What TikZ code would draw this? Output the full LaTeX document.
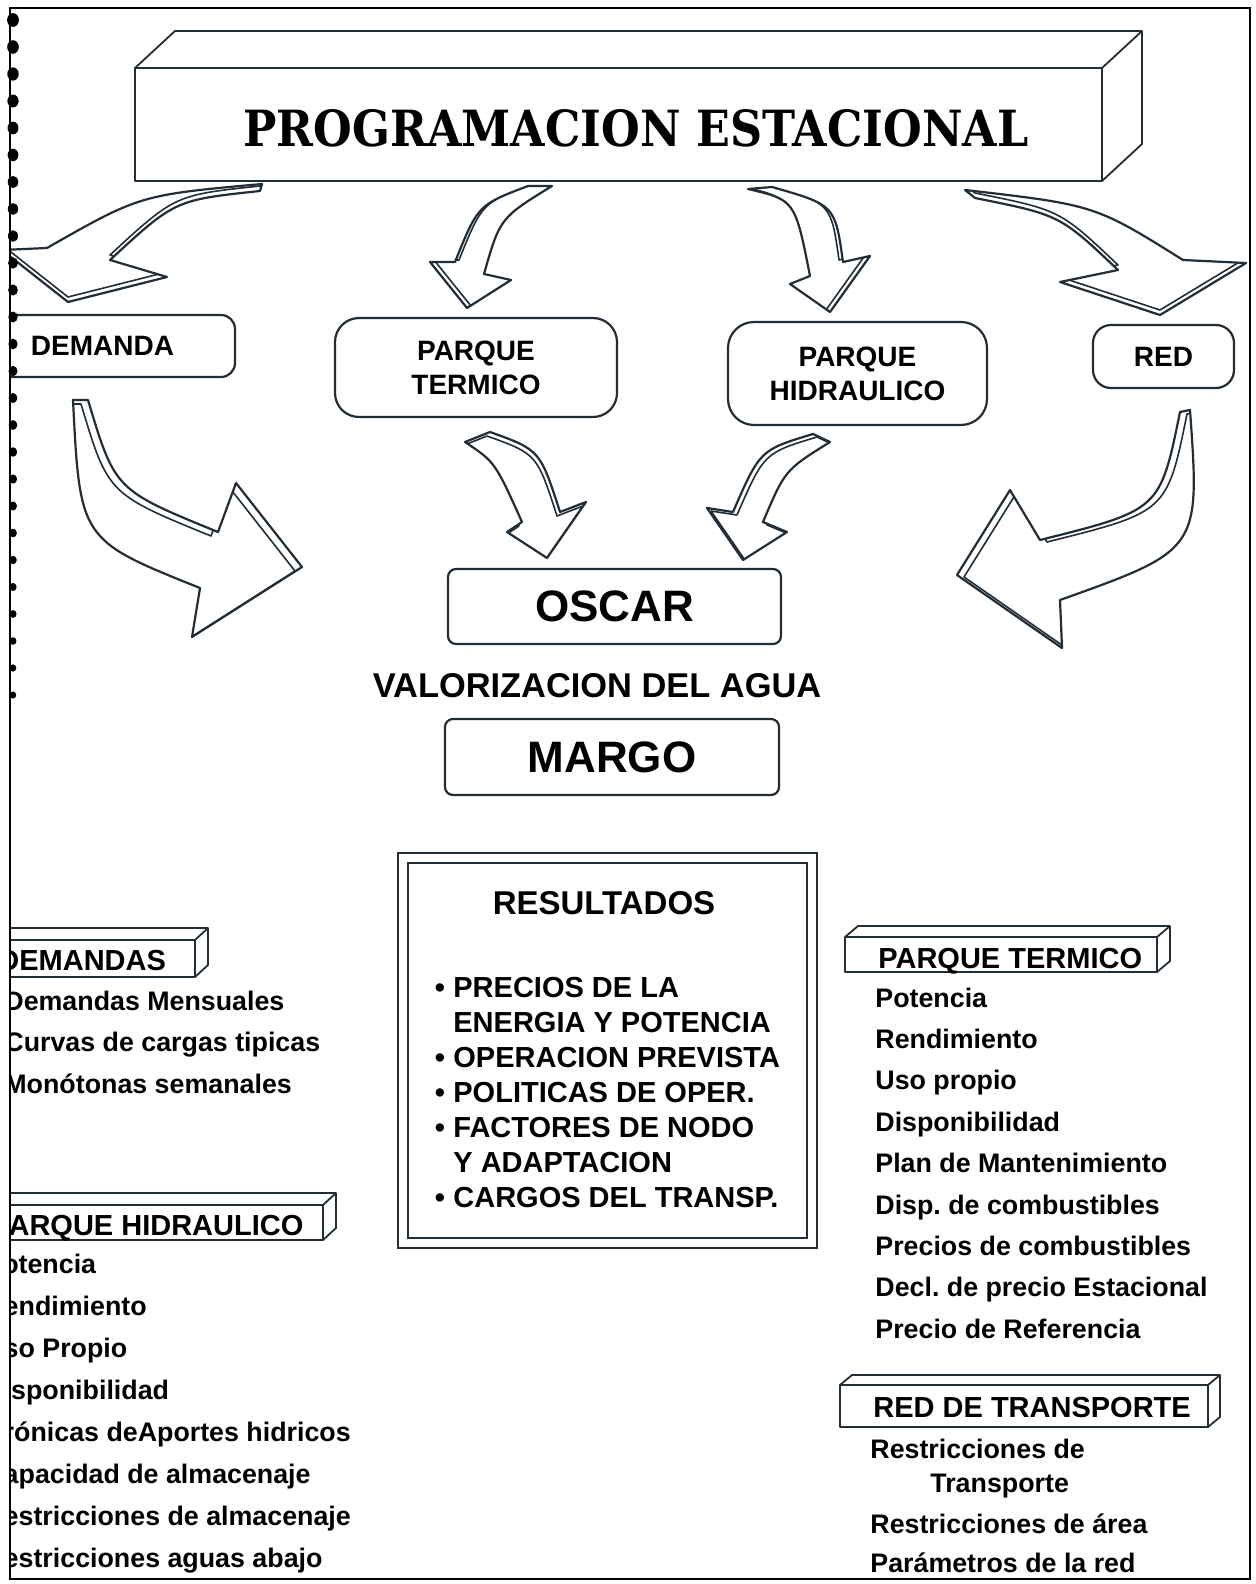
\documentclass[tikz,border=0pt]{standalone}
\usepackage{graphicx}
\usepackage{fontspec}
\setmainfont{Liberation Sans}
\newfontfamily\titulofont{DejaVu Serif}
\definecolor{tinta}{RGB}{35,45,55}
\frenchspacing

% block with depth: front (#1,#2)-(#3,#4), depth (#5,#6)
\newcommand{\prisma}[6]{%
  \filldraw[barra] (#1,#2) -- ++(#5,#6) -- ({#3+(#5)},{#2+(#6)}) -- ({#3+(#5)},{#4+(#6)}) -- (#3,#4) -- (#3,#2) -- cycle;
  \draw[barra] (#1,#2) rectangle (#3,#4) (#3,#2) -- ++(#5,#6);}
% curved block arrow: #1 shift of the inner edge, #2 outline
\newcommand{\flecha}[2]{%
  \fill[white] #2;
  \begin{scope}
    \clip #2;
    \draw[flecha,line width=0.8pt,shift={#1}] #2;
  \end{scope}
  \draw[flecha] #2;}

\begin{document}
\begin{tikzpicture}[x=0.5pt,y=-0.5pt,
    caja/.style={draw=tinta,line width=1.1pt,fill=white,align=center,inner sep=0pt,
      font=\fontsize{14}{17}\selectfont\bfseries},
    barra/.style={draw=tinta,line width=0.9pt,fill=white,line join=round},
    flecha/.style={draw=tinta,line width=1.1pt,line join=round},
    cabecera/.style={anchor=base west,inner sep=0pt,font=\fontsize{14.5}{17}\selectfont\bfseries},
    item/.style={anchor=base west,inner sep=0pt,font=\fontsize{13.4}{16}\selectfont\bfseries},
    resultado/.style={anchor=base west,inner sep=0pt,font=\fontsize{14.5}{17}\selectfont\bfseries}]
  \useasboundingbox (0,0) rectangle (1256,1584);
  \fill[white] (0,0) rectangle (1256,1584);

  \begin{scope}
    \clip (10,8) rectangle (1250,1579);

    % title block
    \prisma{135}{68}{1102}{181}{40}{-37}
    \node[anchor=base west,inner sep=0pt] (titulo) at (243,147)
      {\resizebox{392.5pt}{18.5pt}{\titulofont\bfseries PROGRAMACION ESTACIONAL}};

    % four input boxes
    \node[caja,rounded corners=7pt,minimum width=132.5pt,minimum height=31pt] (demanda) at (102.5,346) {DEMANDA};
    \node[caja,rounded corners=12pt,minimum width=141pt,minimum height=49.5pt] (termico) at (476,367.5) {PARQUE\\TERMICO};
    \node[caja,rounded corners=13pt,minimum width=129.5pt,minimum height=51.5pt] (hidraulico) at (857.5,373.5) {PARQUE\\HIDRAULICO};
    \node[caja,rounded corners=9pt,minimum width=70.5pt,minimum height=31.5pt] (red) at (1163.5,356.5) {RED};

    % arrows from the title
    \flecha{(0,-5)}{(262,184) .. controls (140,195) .. (47,248) -- (2,250) -- (68,302) -- (167,277) -- (110,260) .. controls (175,200) .. (260,191) -- cycle}
    \flecha{(4,-2)}{(528,186) .. controls (478,205) .. (455,262) -- (430,262) -- (467,308) -- (511,280) -- (484,274) .. controls (500,218) .. (552,186) -- cycle}
    \flecha{(-4,-2)}{(748,189) .. controls (795,200) .. (810,276) -- (790,284) -- (830,312) -- (870,256) -- (843,262) .. controls (835,205) .. (772,187) -- cycle}
    \flecha{(0,-5)}{(965,190) .. controls (1095,205) .. (1183,260) -- (1246,263) -- (1160,315) -- (1060,282) -- (1118,270) .. controls (1060,215) .. (975,198) -- cycle}

    % arrows towards OSCAR
    \flecha{(-7,4)}{(73,400) .. controls (80,540) .. (200,588) -- (192,637) -- (302,567) -- (236,483) -- (218,532) .. controls (115,490) .. (88,400) -- cycle}
    \flecha{(-3,4)}{(490,432) .. controls (540,450) .. (560,512) -- (586,502) -- (547,558) -- (507,532) -- (522,522) .. controls (495,462) .. (465,442) -- cycle}
    \flecha{(4,3)}{(813,434) .. controls (760,450) .. (733,512) -- (707,508) -- (743,560) -- (787,532) -- (763,522) .. controls (785,470) .. (830,442) -- cycle}
    \flecha{(7,2)}{(1190,410) .. controls (1200,550) .. (1060,600) -- (1062,648) -- (957,575) -- (1010,490) -- (1040,540) .. controls (1160,510) .. (1180,412) -- cycle}

    % models
    \node[caja,rounded corners=4pt,minimum width=166.5pt,minimum height=37.5pt,
      font=\fontsize{22}{26}\selectfont\bfseries] (oscar) at (614.5,606.5) {OSCAR};
    \node[inner sep=0pt,font=\fontsize{17.2}{20}\selectfont\bfseries] (valor) at (597,686) {VALORIZACION DEL AGUA};
    \node[caja,rounded corners=4pt,minimum width=167pt,minimum height=38pt,
      font=\fontsize{22}{26}\selectfont\bfseries] (margo) at (612,757) {MARGO};

    % results
    \node[draw=tinta,line width=1.4pt,minimum width=209.5pt,minimum height=197.5pt,inner sep=0pt] (resultados) at (607.5,1050.5) {};
    \node[draw=tinta,line width=0.9pt,minimum width=199.5pt,minimum height=187.5pt,inner sep=0pt] (resInterior) at (resultados.center) {};
    \node[inner sep=0pt,font=\fontsize{16.5}{20}\selectfont\bfseries] (resTitulo) at (604,903) {RESULTADOS};
    \foreach \txt [count=\i from 0] in {PRECIOS DE LA,ENERGIA Y POTENCIA,OPERACION PREVISTA,
        POLITICAS DE OPER.,FACTORES DE NODO,Y ADAPTACION,CARGOS DEL TRANSP.}
      \node[resultado] (res\i) at (453,{997+35*\i}) {\txt};
    \foreach \i in {0,2,3,4,6}
      \node[resultado,anchor=base] (vin\i) at (440,{997+35*\i}) {•};

    % DEMANDAS
    \prisma{-20}{940}{195}{977}{13}{-12}
    \node[cabecera] (demandas) at (-2,970) {DEMANDAS};
    \foreach \txt [count=\i from 0] in {Demandas Mensuales,Curvas de cargas tipicas,Monótonas semanales}
      \node[item] (dem\i) at (4,{1010+41.5*\i}) {\txt};

    % PARQUE HIDRAULICO
    \prisma{-20}{1205}{323}{1240}{13}{-12}
    \node[cabecera] (parqueHid) at (-9,1235) {PARQUE HIDRAULICO};
    \foreach \txt [count=\i from 0] in {Potencia,Rendimiento,Uso Propio,Disponibilidad,Crónicas deAportes hidricos,
        Capacidad de almacenaje,Restricciones de almacenaje,Restricciones aguas abajo}
      \node[item] (hid\i) at (-16,{1273+42*\i}) {\txt};

    % PARQUE TERMICO
    \prisma{845}{937}{1157}{972}{13}{-11}
    \node[cabecera] (parqueTer) at (878,968) {PARQUE TERMICO};
    \foreach \txt [count=\i from 0] in {Potencia,Rendimiento,Uso propio,Disponibilidad,Plan de Mantenimiento,
        Disp. de combustibles,Precios de combustibles,Decl. de precio Estacional,Precio de Referencia}
      \node[item] (ter\i) at (875,{1007+41.4*\i}) {\txt};

    % RED DE TRANSPORTE
    \prisma{840}{1385}{1208}{1427}{12}{-10}
    \node[cabecera] (redTrans) at (873,1417) {RED DE TRANSPORTE};
    \node[item] (red0) at (870,1458) {Restricciones de};
    \node[item] (red1) at (930,1492) {Transporte};
    \node[item] (red2) at (870,1533) {Restricciones de área};
    \node[item] (red3) at (870,1572) {Parámetros de la red};
  \end{scope}

  % page frame and binding marks
  \draw[black,line width=1pt] (10,8) rectangle (1250,1579);
  \foreach \y in {20,47,...,720}
    \fill[black] (13,\y) ellipse [x radius={6-\y/250}, y radius={7-\y/200}];
\end{tikzpicture}
\end{document}
